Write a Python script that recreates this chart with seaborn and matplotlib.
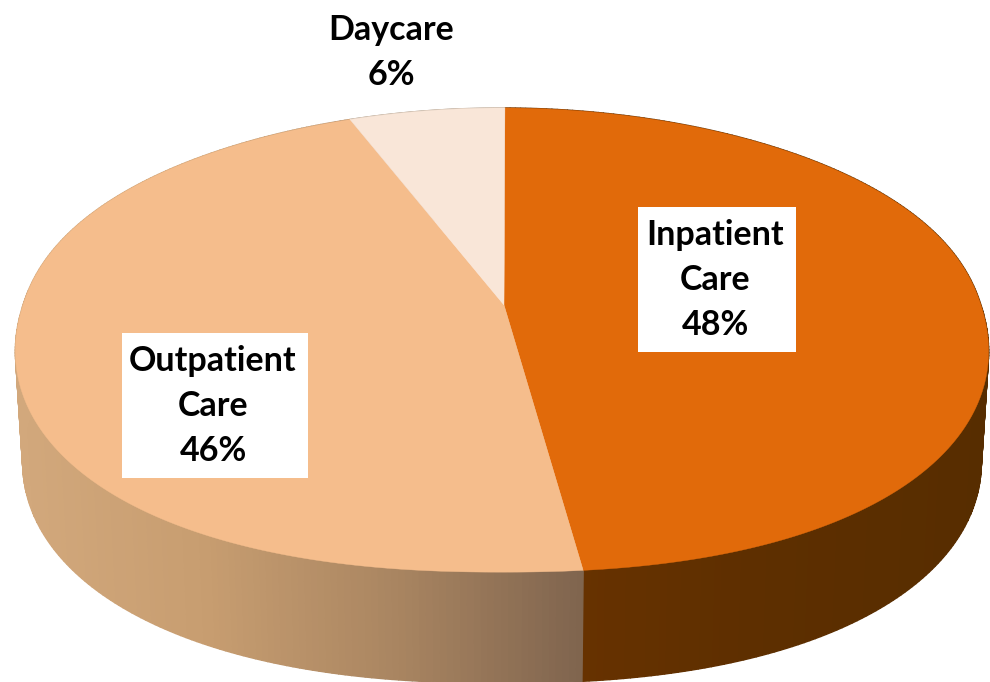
import numpy as np
import matplotlib
matplotlib.use("Agg")
import matplotlib.pyplot as plt
from matplotlib.patches import Rectangle
import seaborn as sns

categories = [["Inpatient", "Care"], ["Outpatient", "Care"], ["Daycare"]]
shares = [47.6, 46.4, 6.0]
top_colors = ["#E16A0A", "#F5BD8C", "#F9E6D8"]
wall_colors = [["#6B3300", "#5E2F00", "#572D00"],
               ["#D2A87C", "#C79D70", "#A98561", "#7F644E"],
               ["#C8B8A8", "#C8B8A8"]]

sns.set_theme(style="white")
plt.rcParams["font.family"] = ["Lato", "DejaVu Sans"]

# perspective projection of the (lower half slightly squared) unit disc
CX, CY, RX, RY, K = 502.0, 305.0, 479.0, 226.8, 0.151
APEX_X, START = 504.0, np.deg2rad(0.4)
DEPTH, SHRINK = 111.0, 0.985


def project(theta):
    u, v = np.sin(theta), np.cos(theta)
    p = 2 + 0.25 * (1 - v) / 2
    r = (np.abs(u) ** p + np.abs(v) ** p) ** (-1 / p)
    u, v = u * r, v * r
    w = 1 + K * v
    return CX + RX * u / w, CY - RY * v / w


fig, ax = plt.subplots(figsize=(9.9, 6.82), dpi=100)
ax.set_position([0, 0, 1, 1])
ax.set_xlim(0, 990)
ax.set_ylim(682, 0)
ax.axis("off")

edges = START + np.r_[0, np.cumsum(shares)] / np.sum(shares) * 2 * np.pi
for i in range(len(shares)):
    th = np.linspace(edges[i], edges[i + 1], 240)
    x, y = project(th)
    xb, yb = CX + (x - CX) * SHRINK, y + DEPTH
    grad = sns.blend_palette(wall_colors[i], 256)
    lo, hi = x.min(), x.max()
    for j in range(len(th) - 1):
        t = ((x[j] + x[j + 1]) / 2 - lo) / max(hi - lo, 1)
        c = grad[int(np.clip(t, 0, 1) * 255)]
        ax.fill([x[j], x[j + 1], xb[j + 1], xb[j]],
                [y[j], y[j + 1], yb[j + 1], yb[j]],
                facecolor=c, edgecolor=c, lw=1.0, zorder=1 + (0 if y[j] < CY else 1))

for i in range(len(shares)):
    th = np.linspace(edges[i], edges[i + 1], 400)
    x, y = project(th)
    ax.fill(np.r_[APEX_X, x], np.r_[CY, y], color=top_colors[i], lw=0.3, zorder=3)

font = dict(fontsize=24.5, fontweight="bold", color="black", ha="center",
            va="baseline", zorder=6)

ax.add_patch(Rectangle((638, 207), 158, 145, fc="white", ec="none", zorder=5))
ax.add_patch(Rectangle((122, 333), 186, 145, fc="white", ec="none", zorder=5))

label_x = [715, 213, 391]
first_baseline = [245, 371, 40]
for i, cx in enumerate(label_x):
    lines = categories[i] + [f"{round(shares[i])}%"]
    for n, line in enumerate(lines):
        ax.text(cx, first_baseline[i] + 45 * n, line, **font)

fig.savefig("out.png", dpi=100)
